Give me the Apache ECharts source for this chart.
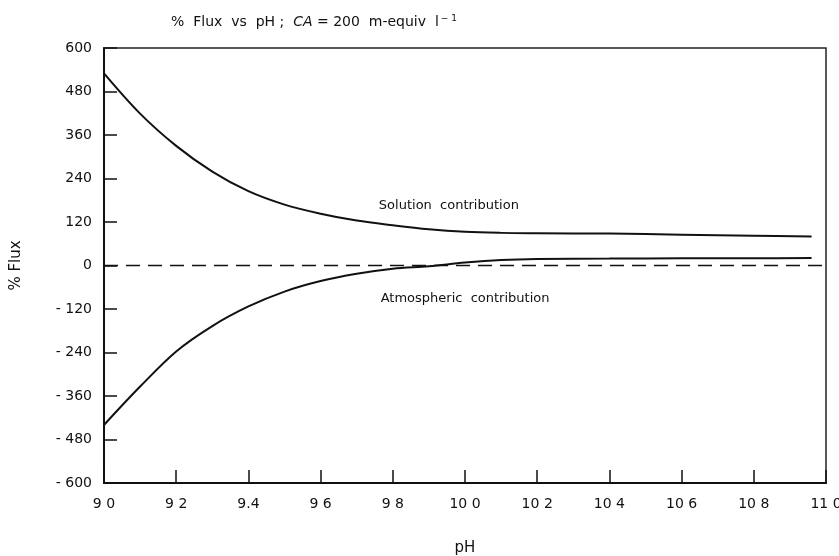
<!DOCTYPE html>
<html>
<head>
<meta charset="utf-8">
<script src="https://cdn.jsdelivr.net/npm/echarts@6/dist/echarts.min.js"></script>
<style>html,body{margin:0;padding:0;background:#fff;}#c{width:839px;height:556px;}</style>
</head>
<body>
<div id="c"></div>
<script>
// pH values (x)
var pH = [9.0, 9.1, 9.2, 9.3, 9.4, 9.5, 9.6, 9.7, 9.8, 9.9, 10.0, 10.1, 10.2, 10.4, 10.6, 10.8, 10.96];
// % Flux, solution contribution
var solution = [530, 419, 330, 259, 205, 168, 143, 124, 111, 100, 93, 90, 89, 88, 85, 82, 80];
// % Flux, atmospheric contribution
var atmospheric = [-440, -334, -237, -167, -113, -72, -43, -23, -9, -2, 8, 15, 18, 19, 20, 20, 21];
// zero reference line
var zeroLineX = [9.0, 11.0];
var zeroLineY = [0, 0];
// tick labels as printed
var xTickValues = [9.0, 9.2, 9.4, 9.6, 9.8, 10.0, 10.2, 10.4, 10.6, 10.8, 11.0];
var xTickLabels = ['9 0', '9 2', '9.4', '9 6', '9 8', '10 0', '10 2', '10 4', '10 6', '10 8', '11 0'];
var yTickValues = [-600, -480, -360, -240, -120, 0, 120, 240, 360, 480, 600];
var yTickLabels = ['- 600', '- 480', '- 360', '- 240', '- 120', '0', '120', '240', '360', '480', '600'];
// annotation positions (data coordinates)
var solutionLabel = {text: 'Solution  contribution', x: 9.76, y: 165};
var atmosLabel = {text: 'Atmospheric  contribution', x: 9.765, y: -91};

function zip(a, b) { return a.map(function (v, i) { return [v, b[i]]; }); }
function lookup(vals, labels) {
  return function (v) {
    for (var i = 0; i < vals.length; i++) { if (Math.abs(vals[i] - v) < 1e-6) return labels[i]; }
    return '';
  };
}

var font = 'DejaVu Sans, Liberation Sans, sans-serif';
var chart = echarts.init(document.getElementById('c'));
chart.setOption({
  animation: false,
  backgroundColor: '#fff',
  title: {
    text: '{n|%  Flux  vs  pH ;  }{i|CA}{n| = 200  m-equiv  l}{s|\u2212 1}',
    left: 166, top: 9,
    textStyle: {
      fontWeight: 'normal',
      rich: {
        n: {fontFamily: font, fontSize: 14, fontWeight: 'normal', color: '#111'},
        i: {fontFamily: font, fontSize: 14, fontStyle: 'italic', fontWeight: 'normal', color: '#111'},
        s: {fontFamily: font, fontSize: 9, fontWeight: 'normal', color: '#111', verticalAlign: 'top', padding: [0, 0, 8, 2]}
      }
    }
  },
  grid: {left: 104, right: 13, top: 48, bottom: 73, show: true, borderColor: '#222', borderWidth: 1.5,
         containLabel: false, outerBoundsMode: 'none'},
  xAxis: {
    type: 'value', min: 9.0, max: 11.0, interval: 0.2,
    name: 'pH', nameLocation: 'middle', nameGap: 58,
    nameTextStyle: {fontFamily: font, fontSize: 15, color: '#111'},
    axisLine: {show: true, onZero: false, lineStyle: {color: '#111', width: 2}},
    axisTick: {show: true, inside: true, length: 13, lineStyle: {color: '#111', width: 1.5}},
    axisLabel: {fontFamily: font, fontSize: 14, color: '#111', margin: 14, formatter: lookup(xTickValues, xTickLabels)},
    splitLine: {show: false}
  },
  yAxis: {
    type: 'value', min: -600, max: 600, interval: 120,
    name: '% Flux', nameLocation: 'middle', nameGap: 80, nameRotate: 90,
    nameTextStyle: {fontFamily: font, fontSize: 15, color: '#111'},
    axisLine: {show: true, onZero: false, lineStyle: {color: '#111', width: 2}},
    axisTick: {show: true, inside: true, length: 13, lineStyle: {color: '#111', width: 1.5}},
    axisLabel: {fontFamily: font, fontSize: 14, color: '#111', margin: 12, formatter: lookup(yTickValues, yTickLabels)},
    splitLine: {show: false}
  },
  series: [
    {
      type: 'line', name: 'zero', data: zip(zeroLineX, zeroLineY), showSymbol: false, silent: true,
      lineStyle: {color: '#111', width: 1.5, type: [14, 8]}
    },
    {
      type: 'line', name: 'Solution contribution', data: zip(pH, solution), smooth: 0.35, showSymbol: false,
      lineStyle: {color: '#111', width: 2},
      markPoint: {
        symbol: 'rect', symbolSize: 1, itemStyle: {color: 'rgba(0,0,0,0)'},
        label: {show: true, position: 'right', distance: 0, formatter: solutionLabel.text, fontFamily: font, fontSize: 13, color: '#111'},
        data: [{coord: [solutionLabel.x, solutionLabel.y]}]
      }
    },
    {
      type: 'line', name: 'Atmospheric contribution', data: zip(pH, atmospheric), smooth: 0.35, showSymbol: false,
      lineStyle: {color: '#111', width: 2},
      markPoint: {
        symbol: 'rect', symbolSize: 1, itemStyle: {color: 'rgba(0,0,0,0)'},
        label: {show: true, position: 'right', distance: 0, formatter: atmosLabel.text, fontFamily: font, fontSize: 13, color: '#111'},
        data: [{coord: [atmosLabel.x, atmosLabel.y]}]
      }
    }
  ]
});
</script>
</body>
</html>
